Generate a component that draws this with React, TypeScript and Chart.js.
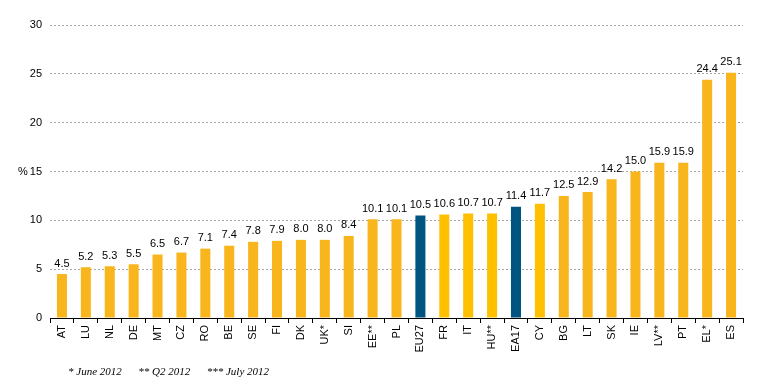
import React, { useEffect, useRef } from "react";
import { Chart, registerables } from "chart.js";

Chart.register(...registerables);

const categories = ["AT", "LU", "NL", "DE", "MT", "CZ", "RO", "BE", "SE", "FI", "DK", "UK*", "SI", "EE**", "PL", "EU27", "FR", "IT", "HU**", "EA17", "CY", "BG", "LT", "SK", "IE", "LV**", "PT", "EL*", "ES"];
const values = [4.5, 5.2, 5.3, 5.5, 6.5, 6.7, 7.1, 7.4, 7.8, 7.9, 8.0, 8.0, 8.4, 10.1, 10.1, 10.5, 10.6, 10.7, 10.7, 11.4, 11.7, 12.5, 12.9, 14.2, 15.0, 15.9, 15.9, 24.4, 25.1];
const aggregates = ["EU27", "EA17"];
const brightYellow = ["FR", "IT", "HU**", "CY"];
const footnote = "* June 2012      ** Q2 2012      *** July 2012";
const yTitle = "%";

const ORANGE = "#F9B51C";
const YELLOW = "#FFC000";
const BLUE = "#005480";

const colors = categories.map((c) =>
  aggregates.includes(c) ? BLUE : brightYellow.includes(c) ? YELLOW : ORANGE
);

const labelPlugin = {
  id: "extras",
  afterDatasetsDraw(chart: any) {
    const ctx = chart.ctx;
    const meta = chart.getDatasetMeta(0);
    ctx.save();
    ctx.font = "11px Arial, 'Liberation Sans', sans-serif";
    ctx.fillStyle = "#000";
    ctx.textAlign = "center";
    ctx.textBaseline = "bottom";
    meta.data.forEach((bar: any, i: number) => {
      ctx.fillText(values[i].toFixed(1), bar.x, bar.y - 5);
    });
    const y = chart.scales.y;
    ctx.textAlign = "left";
    ctx.textBaseline = "middle";
    ctx.fillText(yTitle, 18, y.getPixelForValue(15));
    ctx.font = "italic 11px 'Liberation Serif', 'Times New Roman', serif";
    ctx.textBaseline = "alphabetic";
    ctx.fillText(footnote, 68, 375);
    ctx.restore();
  },
};

export default function App() {
  const ref = useRef<HTMLCanvasElement>(null);
  useEffect(() => {
    const chart = new Chart(ref.current!, {
      type: "bar",
      data: {
        labels: categories,
        datasets: [
          {
            data: values,
            backgroundColor: colors,
            barPercentage: 0.42,
            categoryPercentage: 1,
          },
        ],
      },
      options: {
        animation: false,
        responsive: false,
        layout: { padding: { top: 25, right: 14, left: 0, bottom: 0 } },
        plugins: { legend: { display: false }, tooltip: { enabled: false } },
        scales: {
          x: {
            grid: {
              offset: true,
              drawOnChartArea: false,
              drawTicks: true,
              tickLength: 5,
              color: "#000",
            },
            border: { color: "#000", width: 1 },
            ticks: {
              minRotation: 90,
              maxRotation: 90,
              autoSkip: false,
              color: "#000",
              padding: 2,
              font: { family: "Arial, 'Liberation Sans', sans-serif", size: 11 },
            },
            afterFit: (s: any) => {
              s.height = 72;
            },
          },
          y: {
            min: 0,
            max: 30,
            ticks: {
              stepSize: 5,
              color: "#000",
              padding: 8,
              font: { family: "Arial, 'Liberation Sans', sans-serif", size: 11 },
            },
            grid: {
              color: (c: any) => (c.tick && c.tick.value === 0 ? "rgba(0,0,0,0)" : "#A6A6A6"),
              drawTicks: false,
              borderDash: [2, 2],
            } as any,
            border: { display: false, dash: [2, 2] },
            afterFit: (s: any) => {
              s.width = 50;
            },
          },
        },
      },
      plugins: [labelPlugin],
    });
    return () => chart.destroy();
  }, []);
  return (
    <div style={{ position: "fixed", left: 0, top: 0, width: 757, height: 390, background: "#fff" }}>
      <canvas ref={ref} width={757} height={390} />
    </div>
  );
}
